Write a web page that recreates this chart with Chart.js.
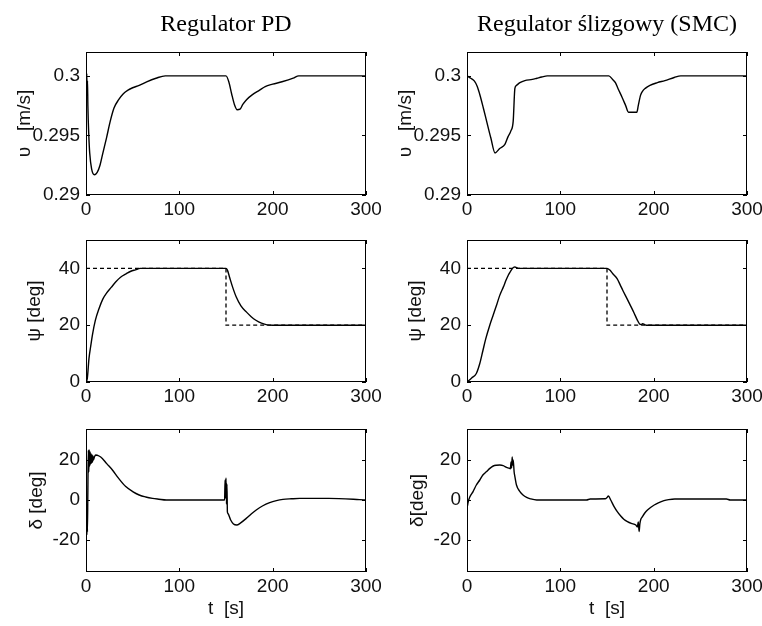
<!DOCTYPE html>
<html>
<head>
<meta charset="utf-8">
<script src="https://cdn.jsdelivr.net/npm/chart.js@4.4.1/dist/chart.umd.min.js"></script>
<style>
  body { margin: 0; background: #fff; overflow: hidden; }
  canvas { position: absolute; }
</style>
</head>
<body>
<canvas id="uPD" width="381" height="222" style="left:0;top:0"></canvas>
<canvas id="uSMC" width="381" height="222" style="left:381px;top:0"></canvas>
<canvas id="psiPD" width="381" height="188" style="left:0;top:222px"></canvas>
<canvas id="psiSMC" width="381" height="188" style="left:381px;top:222px"></canvas>
<canvas id="deltaPD" width="381" height="216" style="left:0;top:410px"></canvas>
<canvas id="deltaSMC" width="381" height="216" style="left:381px;top:410px"></canvas>
<script>
// ticks
const xTicks = [0, 100, 200, 300];
const uTicks = [0.29, 0.295, 0.3];
const uTickLabels = ["0.29", "0.295", "0.3"];
const psiTicks = [0, 20, 40];
const deltaTicks = [-20, 0, 20];

// surge velocity u [m/s]
const pdUTime = [0, 0.4, 0.8, 1.2, 1.6, 2, 3, 4, 6, 9, 12, 15, 18, 22, 26, 30, 35, 40, 45, 50, 57, 65, 75, 85, 150, 153, 156, 159, 162, 165, 168, 172, 178, 186, 192, 200, 210, 222, 228, 300];
const pdU = [0.3, 0.2986, 0.3002, 0.2987, 0.2996, 0.2975, 0.295, 0.2935, 0.2922, 0.2917, 0.2919, 0.2925, 0.2935, 0.2948, 0.2962, 0.2973, 0.298, 0.2985, 0.2988, 0.299, 0.2992, 0.2995, 0.2998, 0.3, 0.3, 0.2995, 0.2985, 0.2976, 0.29715, 0.2972, 0.2976, 0.298, 0.2984, 0.2988, 0.2991, 0.2993, 0.2995, 0.2998, 0.3, 0.3];
const smcUTime = [0, 4, 8, 11, 14, 17.5, 21, 25.5, 30, 35, 40.6, 44, 47, 49.5, 51.3, 53, 56.7, 62, 70, 75, 80, 86, 152, 156, 159, 162, 166, 170, 173, 182, 183.5, 186, 188, 191, 196, 204, 212, 222, 229, 300];
const smcU = [0.3, 0.2998, 0.29955, 0.2991, 0.29835, 0.2973, 0.2962, 0.2948, 0.29353, 0.2939, 0.29425, 0.2949, 0.29538, 0.2962, 0.29895, 0.2992, 0.29943, 0.2996, 0.2997, 0.2998, 0.2999, 0.3, 0.3, 0.2997, 0.29943, 0.2989, 0.29823, 0.2975, 0.29695, 0.29695, 0.2975, 0.29838, 0.2987, 0.29895, 0.2992, 0.29943, 0.2996, 0.29986, 0.3, 0.3];

// heading psi [deg]
const refTime = [0, 150, 150, 300];
const refPsi = [40, 40, 20, 20];
const pdPsiTime = [0, 1.4, 3.2, 5, 7, 10, 14, 18, 22, 27, 32, 37, 43, 48, 53, 58, 150, 151.5, 154, 157, 161, 166, 172, 177, 182, 188, 194, 200, 300];
const pdPsi = [0, 1.3, 8.3, 12.5, 16.8, 21.7, 25.9, 29.2, 31.3, 33.3, 35.3, 36.9, 38.1, 39, 39.5, 40, 40, 39.4, 36.7, 33.5, 29.9, 26.8, 24.6, 23, 21.75, 20.7, 20.1, 20, 20];
const smcPsiTime = [0, 5, 10, 13.7, 17, 20, 24.4, 28, 32, 35.1, 39, 42, 44.1, 46, 47.8, 50, 51.3, 53, 55, 150, 153, 156, 160.8, 164, 167, 171.7, 175, 179, 182.5, 185, 186.5, 188, 190, 192, 300];
const smcPsi = [0, 1.4, 3, 6.5, 11, 15.1, 20, 23.5, 27.4, 30.5, 33.5, 36, 37.5, 38.6, 39.6, 40.4, 40.5, 40.3, 40, 40, 39.4, 38.2, 36.4, 34.3, 32.2, 29.2, 27, 24.3, 21.8, 20.4, 20.2, 20.5, 20.3, 20, 20];

// rudder angle delta [deg]
const pdDeltaTime = [0, 0.3, 0.6, 0.9, 1.2, 1.5, 2, 2.5, 3, 3.5, 4, 4.5, 5, 5.5, 6, 6.5, 7, 7.5, 8, 9, 10.4, 14, 17.5, 22, 28.3, 35, 42.6, 50, 57, 64, 71.3, 78, 86, 148.5, 149, 149.5, 150, 150.5, 151, 151.5, 152, 155, 158, 161.6, 165, 171.7, 177, 182.4, 189, 196.8, 204, 211, 220, 229, 260, 293, 300];
const pdDelta = [0, -10, -3, -17.5, -6, -16, 5, 25, 14, 25, 17, 24, 18, 23, 18.5, 22.5, 19, 22, 20, 21.5, 22.5, 22, 20.8, 18.3, 15, 10.8, 6.7, 4.2, 2.5, 1.5, 0.8, 0.4, 0, 0, 10, 1, 11, -2, 8, -6, -6.7, -10, -12, -12.5, -11.7, -9.2, -7, -5, -3, -1.3, -0.3, 0.3, 0.6, 0.8, 0.8, 0.2, 0];
const smcDeltaTime = [0, 0.5, 1, 3, 6.5, 10, 13.7, 17, 20.9, 24.5, 28.1, 31.5, 35.2, 38.8, 42.4, 45, 46.5, 47.2, 47.8, 48.4, 49, 49.5, 50.5, 51.3, 53, 56.7, 60, 63.9, 68, 74.7, 90, 128, 132, 148, 150, 151.5, 154, 157.6, 161, 164.7, 168, 171.9, 176, 180.9, 182.5, 183.5, 184.4, 185.2, 186, 188, 190.5, 193.4, 197, 200.6, 205, 211, 216, 222.7, 278, 282, 300];
const smcDelta = [0, -3, -1.5, 1.5, 4.2, 7.5, 10, 12.5, 14.2, 15.8, 17, 17.4, 17.5, 17.2, 16.3, 15.9, 15.6, 19, 16, 21.5, 17.5, 20, 14, 11.7, 7.5, 4.2, 2.5, 1.3, 0.6, 0, 0, 0, 0.5, 0.6, 1.2, 2, 0, -3.3, -5.8, -8, -9.6, -10.8, -11.7, -12.5, -13.5, -11, -15.8, -12, -10, -8.3, -6.5, -5, -3.6, -2.5, -1.4, -0.3, 0.2, 0.5, 0.5, 0, 0];

const tickFont = { family: "Liberation Sans", size: 19 };

function points(ts, vs) {
  return ts.map((t, i) => ({ x: t, y: vs[i] }));
}

// box round the axes plus matlab style inward ticks
const framePlugin = {
  id: "frame",
  afterDatasetsDraw(chart) {
    const { ctx, chartArea: a, scales } = chart;
    ctx.save();
    ctx.strokeStyle = "#000";
    ctx.lineWidth = 1;
    ctx.strokeRect(a.left + 0.5, a.top + 0.5, a.width - 1, a.height - 1);
    ctx.beginPath();
    scales.x.ticks.forEach((t) => {
      const px = Math.round(scales.x.getPixelForValue(t.value)) + 0.5;
      ctx.moveTo(px, a.top);
      ctx.lineTo(px, a.top + 4);
      ctx.moveTo(px, a.bottom);
      ctx.lineTo(px, a.bottom - 4);
    });
    scales.y.ticks.forEach((t) => {
      const py = Math.round(scales.y.getPixelForValue(t.value)) + 0.5;
      ctx.moveTo(a.left, py);
      ctx.lineTo(a.left + 4, py);
      ctx.moveTo(a.right, py);
      ctx.lineTo(a.right - 4, py);
    });
    ctx.stroke();
    ctx.restore();
  },
};

function makeChart(id, o) {
  const datasets = [
    {
      data: points(o.t, o.v),
      borderColor: "#000",
      borderWidth: 1.4,
      pointRadius: 0,
      cubicInterpolationMode: "monotone",
    },
  ];
  if (o.ref) {
    datasets.push({
      data: points(refTime, refPsi),
      borderColor: "#000",
      borderWidth: 1.3,
      borderDash: [4, 3],
      pointRadius: 0,
    });
  }
  return new Chart(id, {
    type: "line",
    data: { datasets: datasets },
    plugins: [framePlugin],
    options: {
      responsive: false,
      animation: false,
      layout: { padding: { left: 0, right: 15, top: o.padTop, bottom: 0 } },
      plugins: {
        legend: { display: false },
        tooltip: { enabled: false },
        title: {
          display: !!o.title,
          text: o.title,
          fullSize: false,
          color: "#000",
          font: { family: "Liberation Serif", size: 24, weight: "normal" },
          padding: { top: 10, bottom: 13.2 },
        },
      },
      scales: {
        x: {
          type: "linear",
          min: 0,
          max: 300,
          afterBuildTicks: (s) => { s.ticks = xTicks.map((v) => ({ value: v })); },
          afterFit: (s) => { s.height = o.xAxisH; s.paddingLeft = 0; s.paddingRight = 0; },
          ticks: { font: tickFont, color: "#111", padding: 3, maxRotation: 0 },
          grid: { display: false, drawTicks: false },
          border: { display: false },
          title: {
            display: !!o.xTitle,
            text: o.xTitle,
            color: "#111",
            font: tickFont,
            padding: { top: 0, bottom: 5.6 },
          },
        },
        y: {
          min: o.yMin,
          max: o.yMax,
          afterBuildTicks: (s) => { s.ticks = o.yTicks.map((v) => ({ value: v })); },
          afterFit: (s) => { s.width = 86; s.paddingTop = 0; s.paddingBottom = 0; },
          ticks: {
            font: tickFont,
            color: "#111",
            padding: 6,
            callback: (v, i) => (o.yLabels ? o.yLabels[i] : String(v)),
          },
          grid: { display: false, drawTicks: false },
          border: { display: false },
          title: {
            display: true,
            text: o.yTitle,
            color: "#111",
            font: tickFont,
            padding: { top: o.yTitlePad, bottom: 0 },
          },
        },
      },
    },
  });
}

makeChart("uPD", { t: pdUTime, v: pdU, yMin: 0.29, yMax: 0.302, yTicks: uTicks, yLabels: uTickLabels,
  yTitle: "υ   [m/s]", yTitlePad: 13.6, title: "Regulator PD", padTop: 0, xAxisH: 27 });
makeChart("uSMC", { t: smcUTime, v: smcU, yMin: 0.29, yMax: 0.302, yTicks: uTicks, yLabels: uTickLabels,
  yTitle: "υ   [m/s]", yTitlePad: 13.6, title: "Regulator ślizgowy (SMC)", padTop: 0, xAxisH: 27 });
makeChart("psiPD", { t: pdPsiTime, v: pdPsi, ref: true, yMin: 0, yMax: 50, yTicks: psiTicks,
  yTitle: "ψ [deg]", yTitlePad: 23.6, padTop: 18, xAxisH: 28 });
makeChart("psiSMC", { t: smcPsiTime, v: smcPsi, ref: true, yMin: 0, yMax: 50, yTicks: psiTicks,
  yTitle: "ψ [deg]", yTitlePad: 23.6, padTop: 18, xAxisH: 28 });
makeChart("deltaPD", { t: pdDeltaTime, v: pdDelta, yMin: -36, yMax: 35.5, yTicks: deltaTicks,
  yTitle: "δ [deg]", yTitlePad: 25.6, xTitle: "t  [s]", padTop: 19, xAxisH: 54 });
makeChart("deltaSMC", { t: smcDeltaTime, v: smcDelta, yMin: -36, yMax: 35.5, yTicks: deltaTicks,
  yTitle: "δ[deg]", yTitlePad: 25.6, xTitle: "t  [s]", padTop: 19, xAxisH: 54 });
</script>
</body>
</html>
